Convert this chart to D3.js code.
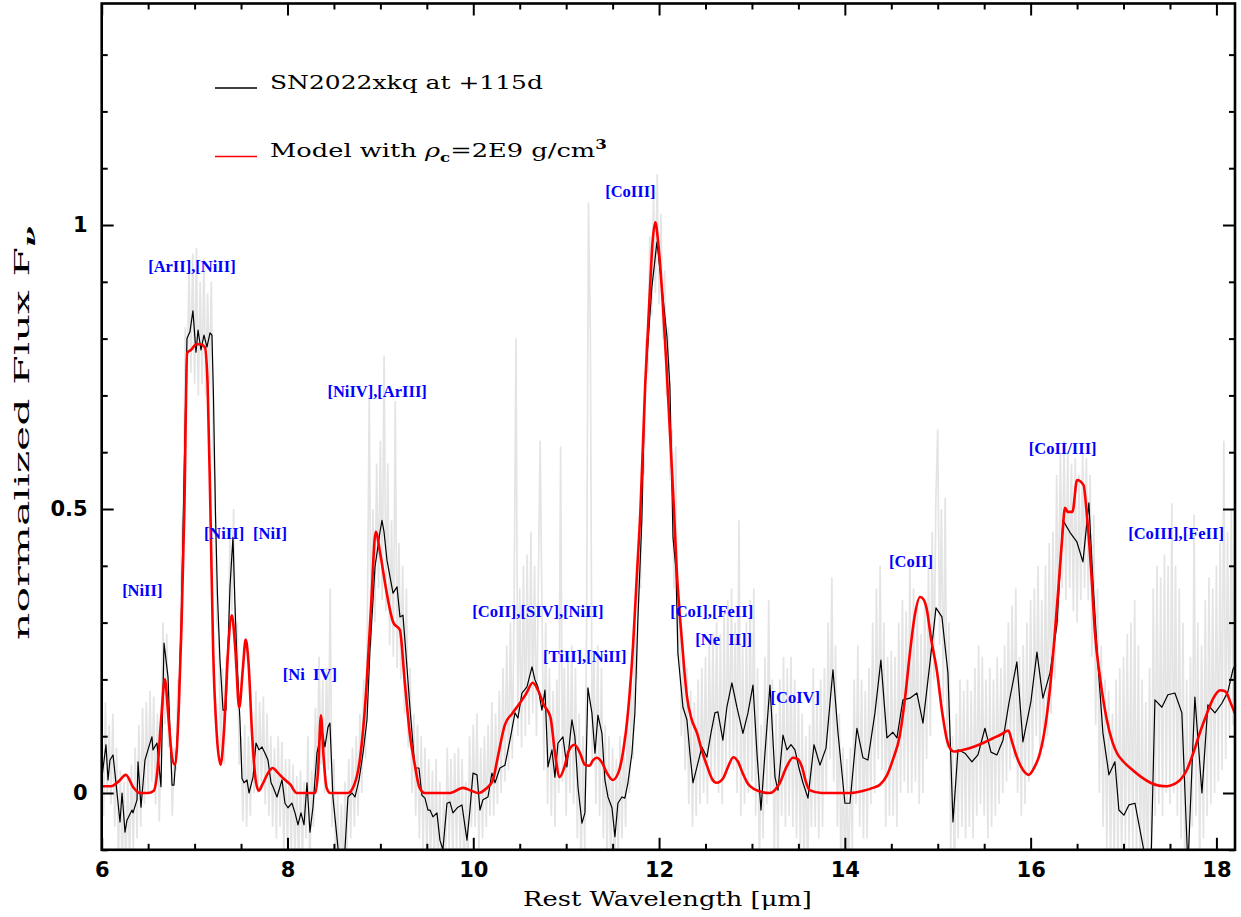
<!DOCTYPE html>
<html><head><meta charset="utf-8">
<script src="https://cdn.jsdelivr.net/npm/d3@7"></script>
<style>body{margin:0;background:#fff}svg{display:block}</style>
</head><body>
<svg id="c" width="1241" height="917"></svg>
<script>
// ---------------- DATA ----------------
const xMajorTicks = [6, 8, 10, 12, 14, 16, 18];
const xTickLabels = ["6", "8", "10", "12", "14", "16", "18"];
const yMajorTicks = [0, 0.5, 1];
const yTickLabels = ["0", "0.5", "1"];

// Model (red) : [wavelength um, normalized flux]
const modelPoints = [[6.00,0.012],[6.10,0.012],[6.18,0.02],[6.26,0.032],[6.34,0.01],[6.41,0.0],[6.50,0.0],[6.56,0.004],[6.60,0.04],[6.64,0.13],[6.68,0.20],[6.72,0.13],[6.76,0.06],[6.79,0.05],[6.83,0.15],[6.86,0.30],[6.89,0.50],[6.92,0.775],[6.96,0.78],[7.02,0.79],[7.06,0.79],[7.11,0.785],[7.14,0.72],[7.17,0.50],[7.20,0.25],[7.24,0.10],[7.28,0.05],[7.32,0.12],[7.36,0.25],[7.40,0.313],[7.44,0.25],[7.48,0.15],[7.52,0.22],[7.55,0.27],[7.58,0.23],[7.62,0.10],[7.66,0.02],[7.69,0.004],[7.73,0.015],[7.79,0.035],[7.84,0.044],[7.90,0.035],[7.96,0.025],[8.03,0.015],[8.10,0.0],[8.20,0.0],[8.30,0.0],[8.33,0.04],[8.36,0.137],[8.39,0.06],[8.42,0.01],[8.46,0.0],[8.55,0.0],[8.65,0.0],[8.72,0.015],[8.78,0.06],[8.85,0.187],[8.90,0.33],[8.95,0.46],[9.00,0.42],[9.06,0.36],[9.14,0.30],[9.21,0.287],[9.26,0.20],[9.32,0.10],[9.37,0.05],[9.42,0.01],[9.48,0.0],[9.60,0.0],[9.75,0.0],[9.89,0.009],[9.98,0.004],[10.05,0.0],[10.14,0.008],[10.21,0.022],[10.26,0.06],[10.34,0.12],[10.42,0.14],[10.50,0.158],[10.57,0.175],[10.64,0.194],[10.70,0.18],[10.76,0.155],[10.83,0.134],[10.88,0.07],[10.93,0.028],[10.98,0.045],[11.03,0.075],[11.09,0.085],[11.15,0.07],[11.20,0.05],[11.25,0.048],[11.29,0.058],[11.33,0.062],[11.38,0.055],[11.44,0.035],[11.50,0.023],[11.56,0.035],[11.61,0.07],[11.67,0.15],[11.72,0.26],[11.76,0.38],[11.80,0.50],[11.85,0.715],[11.90,0.88],[11.93,0.97],[11.96,1.005],[11.99,0.97],[12.04,0.863],[12.08,0.75],[12.12,0.627],[12.16,0.50],[12.19,0.393],[12.23,0.30],[12.27,0.22],[12.30,0.17],[12.35,0.13],[12.41,0.105],[12.46,0.075],[12.52,0.046],[12.57,0.025],[12.62,0.018],[12.69,0.026],[12.74,0.045],[12.80,0.063],[12.85,0.055],[12.90,0.035],[12.95,0.018],[12.98,0.012],[13.08,0.003],[13.19,0.0],[13.30,0.018],[13.37,0.045],[13.44,0.062],[13.49,0.06],[13.54,0.045],[13.58,0.02],[13.62,0.005],[13.75,0.0],[13.90,0.0],[14.05,0.0],[14.20,0.004],[14.30,0.009],[14.38,0.015],[14.45,0.03],[14.52,0.06],[14.59,0.10],[14.65,0.17],[14.70,0.246],[14.75,0.31],[14.81,0.345],[14.85,0.34],[14.88,0.325],[14.93,0.27],[14.99,0.216],[15.05,0.14],[15.10,0.093],[15.15,0.075],[15.18,0.073],[15.30,0.077],[15.38,0.081],[15.50,0.089],[15.59,0.096],[15.68,0.103],[15.76,0.11],[15.80,0.09],[15.85,0.064],[15.92,0.04],[15.98,0.032],[16.04,0.045],[16.10,0.07],[16.16,0.12],[16.21,0.187],[16.26,0.28],[16.30,0.363],[16.34,0.45],[16.37,0.502],[16.40,0.495],[16.45,0.495],[16.50,0.551],[16.57,0.542],[16.60,0.50],[16.62,0.463],[16.66,0.37],[16.69,0.287],[16.75,0.2],[16.82,0.129],[16.88,0.09],[16.93,0.07],[17.00,0.055],[17.10,0.04],[17.20,0.027],[17.29,0.018],[17.38,0.013],[17.47,0.012],[17.55,0.016],[17.61,0.023],[17.68,0.04],[17.75,0.07],[17.83,0.11],[17.90,0.141],[17.97,0.168],[18.04,0.181],[18.08,0.18],[18.11,0.176],[18.15,0.16],[18.20,0.14]];

// Binned observed spectrum (black): [wavelength um, normalized flux]
const obsPoints = [[6.003,0.028],[6.046,0.085],[6.068,0.023],[6.089,0.058],[6.122,0.067],[6.165,0.0],[6.197,-0.051],[6.219,0.0],[6.251,-0.069],[6.272,-0.048],[6.326,-0.030],[6.337,-0.035],[6.380,-0.012],[6.391,0.055],[6.423,-0.025],[6.466,0.058],[6.498,0.076],[6.541,0.099],[6.552,0.076],[6.595,0.088],[6.638,0.011],[6.671,0.264],[6.714,0.204],[6.757,0.014],[6.778,0.014],[6.821,0.116],[6.856,0.30],[6.886,0.55],[6.918,0.80],[6.950,0.812],[6.982,0.849],[7.015,0.776],[7.037,0.815],[7.069,0.780],[7.101,0.806],[7.133,0.785],[7.166,0.810],[7.187,0.806],[7.203,0.70],[7.225,0.49],[7.246,0.35],[7.273,0.235],[7.306,0.146],[7.338,0.146],[7.381,0.363],[7.413,0.45],[7.434,0.335],[7.456,0.234],[7.488,0.129],[7.510,0.026],[7.532,0.018],[7.564,0.023],[7.586,0.0],[7.629,0.028],[7.661,0.088],[7.693,0.076],[7.726,0.081],[7.758,0.070],[7.790,0.058],[7.823,0.018],[7.844,0.011],[7.887,-0.007],[7.941,0.023],[7.973,-0.018],[8.005,-0.026],[8.048,-0.018],[8.081,-0.035],[8.113,-0.056],[8.145,-0.035],[8.178,-0.056],[8.210,0.018],[8.242,-0.069],[8.274,-0.025],[8.317,0.070],[8.371,0.111],[8.403,0.081],[8.436,0.116],[8.457,0.123],[8.489,-0.007],[8.544,-0.097],[8.576,-0.13],[8.608,-0.13],[8.651,-0.007],[8.694,0.0],[8.727,-0.007],[8.770,0.023],[8.813,0.07],[8.856,0.129],[8.888,0.252],[8.942,0.398],[8.996,0.46],[9.017,0.48],[9.039,0.46],[9.071,0.41],[9.136,0.352],[9.179,0.363],[9.211,0.310],[9.243,0.313],[9.275,0.246],[9.318,0.151],[9.372,0.044],[9.415,0.044],[9.447,-0.004],[9.480,-0.009],[9.512,-0.03],[9.534,-0.03],[9.566,-0.042],[9.609,-0.035],[9.641,-0.083],[9.673,-0.10],[9.717,-0.018],[9.749,-0.016],[9.781,-0.035],[9.835,-0.025],[9.878,-0.021],[9.932,-0.083],[9.964,-0.030],[9.997,0.035],[10.040,0.032],[10.072,-0.030],[10.104,-0.012],[10.158,-0.007],[10.201,0.035],[10.234,0.018],[10.287,0.044],[10.341,0.049],[10.395,0.093],[10.449,0.141],[10.481,0.132],[10.524,0.176],[10.578,0.187],[10.632,0.222],[10.664,0.199],[10.696,0.187],[10.739,0.146],[10.772,0.181],[10.804,0.046],[10.847,0.076],[10.879,0.028],[10.912,0.088],[10.965,0.099],[11.008,0.046],[11.062,0.129],[11.094,0.099],[11.127,0.011],[11.170,-0.053],[11.202,-0.035],[11.234,0.185],[11.277,0.141],[11.310,0.070],[11.342,0.137],[11.385,0.105],[11.417,0.023],[11.450,-0.007],[11.493,-0.026],[11.525,-0.077],[11.557,-0.018],[11.600,-0.007],[11.632,-0.009],[11.665,0.018],[11.708,0.070],[11.740,0.141],[11.772,0.305],[11.815,0.482],[11.847,0.715],[11.923,0.891],[11.977,0.97],[12.031,0.891],[12.085,0.803],[12.117,0.715],[12.150,0.45],[12.182,0.393],[12.203,0.246],[12.257,0.151],[12.300,0.129],[12.332,0.070],[12.365,0.018],[12.408,0.046],[12.461,0.081],[12.515,0.063],[12.558,0.105],[12.601,0.141],[12.633,0.143],[12.687,0.093],[12.730,0.151],[12.784,0.194],[12.838,0.151],[12.903,0.105],[12.957,0.141],[13.011,0.190],[13.054,0.070],[13.097,-0.030],[13.140,0.070],[13.194,0.190],[13.248,0.028],[13.280,0.005],[13.334,0.102],[13.377,0.076],[13.420,0.085],[13.463,0.076],[13.506,0.044],[13.549,0.018],[13.603,-0.009],[13.668,0.085],[13.732,0.049],[13.797,0.079],[13.872,0.217],[13.926,0.106],[14.001,-0.018],[14.055,-0.018],[14.130,0.114],[14.195,0.062],[14.248,0.058],[14.324,0.141],[14.388,0.234],[14.453,0.097],[14.517,0.107],[14.561,0.097],[14.625,0.164],[14.701,0.167],[14.776,0.176],[14.841,0.123],[14.916,0.229],[14.981,0.326],[15.045,0.310],[15.110,0.211],[15.164,-0.051],[15.218,0.076],[15.293,0.070],[15.368,0.055],[15.433,0.067],[15.508,0.114],[15.573,0.072],[15.637,0.067],[15.702,0.093],[15.766,0.158],[15.852,0.231],[15.917,0.090],[16.003,0.161],[16.068,0.248],[16.132,0.167],[16.208,0.211],[16.283,0.296],[16.348,0.48],[16.423,0.459],[16.498,0.442],[16.563,0.407],[16.627,0.511],[16.670,0.375],[16.724,0.229],[16.778,0.106],[16.843,0.032],[16.907,0.055],[16.950,-0.030],[17.004,-0.039],[17.058,-0.021],[17.123,-0.018],[17.177,-0.065],[17.252,-0.13],[17.295,-0.13],[17.338,0.164],[17.413,0.151],[17.478,0.173],[17.553,0.176],[17.628,0.141],[17.693,-0.13],[17.768,0.169],[17.844,0.0],[17.908,0.155],[17.984,0.141],[18.059,0.158],[18.123,0.178],[18.177,0.217],[18.20,0.225]];

// Full-resolution spectrum (grey), sampled every 0.02 um from 6.00 um
const rawStart = 6.0;
const rawStep = 0.02;
const rawFlux = [
 0.10,-0.04,0.16,0.00,0.12,-0.02,0.14,-0.06,0.08,-0.12, 0.04,-0.14,0.02,-0.15,0.03,-0.12,0.05,-0.10,0.08,-0.08, 0.12,-0.06,0.15,-0.02,0.16,0.00,0.18,0.02,0.17,-0.02, 0.14,-0.05,0.10,0.30,0.12,0.28,0.08,0.10,-0.04,0.08, 0.04,0.20,0.18,0.45,0.52,0.82,0.72,0.92,0.74,0.95,
 0.72,0.96,0.70,0.90,0.72,0.94,0.70,0.88,0.72,0.90, 0.60,0.55,0.30,0.28,0.08,0.22,0.05,0.24,0.20,0.45, 0.32,0.50,0.22,0.30,0.05,0.10,-0.05,0.12,-0.06,0.10, -0.04,0.12,0.00,0.18,0.00,0.16,0.02,0.17,-0.02,0.14, -0.04,0.10,-0.06,0.08,-0.08,0.10,-0.06,0.09,-0.10,0.06,
 -0.10,0.06,-0.11,0.05,-0.12,0.03,-0.13,0.04,-0.12,0.02, -0.08,0.10,-0.14,0.04,-0.06,0.15,0.02,0.24,0.05,0.20, 0.00,0.22,0.04,0.36,-0.06,0.06,-0.14,0.00,-0.16,-0.02, -0.15,0.02,-0.10,0.06,-0.08,0.08,-0.06,0.10,-0.04,0.14, 0.00,0.20,0.06,0.30,0.70,0.26,0.50,0.30,0.58,0.36,
 0.62,0.34,0.77,0.32,0.58,0.26,0.48,0.24,0.69,0.22, 0.44,0.20,0.40,0.14,0.36,0.08,0.22,0.00,0.14,-0.04, 0.12,-0.08,0.10,-0.10,0.08,-0.12,0.06,-0.13,0.04,-0.14, 0.06,-0.16,0.02,-0.18,0.00,-0.12,0.08,-0.10,0.06,-0.12, 0.07,-0.10,0.08,-0.12,0.06,-0.15,0.02,-0.14,0.10,-0.06,
 0.12,-0.06,0.14,-0.10,0.08,-0.08,0.10,-0.06,0.12,-0.04, 0.16,-0.04,0.14,-0.02,0.18,0.00,0.22,0.02,0.26,0.04, 0.30,0.06,0.34,0.80,0.10,0.36,0.08,0.40,0.10,0.42, 0.12,0.46,0.14,0.40,0.10,0.36,0.62,0.32,0.04,0.30, -0.02,0.22,-0.04,0.18,-0.06,0.20,0.00,0.61,0.02,0.22,
 -0.04,0.24,0.00,0.26,-0.02,0.22,-0.08,0.14,-0.14,0.10, -0.10,0.30,1.04,0.81,0.06,0.24,-0.02,0.26,-0.04,0.22, -0.08,0.12,-0.12,0.10,-0.14,0.08,-0.16,0.06,-0.12,0.10, -0.08,0.10,-0.06,0.14,0.00,0.20,0.06,0.30,0.20,0.42, 0.36,0.60,0.56,0.80,0.74,0.98,0.84,1.05,0.88,1.09,
 0.86,1.02,0.80,0.92,0.70,0.82,0.55,0.64,0.36,0.61, 0.24,0.34,0.10,0.26,0.04,0.22,-0.02,0.18,-0.06,0.16, -0.04,0.20,-0.02,0.22,0.00,0.24,-0.02,0.26,0.02,0.28, 0.02,0.30,0.00,0.28,-0.02,0.32,0.04,0.34,0.06,0.36, 0.04,0.30,0.00,0.48,-0.04,0.26,-0.02,0.30,0.00,0.34,
 0.02,0.36,-0.04,0.22,-0.14,0.12,-0.08,0.24,-0.02,0.34, 0.00,0.20,-0.12,0.14,-0.14,0.20,-0.04,0.24,-0.06,0.22, -0.04,0.24,-0.06,0.20,-0.08,0.18,-0.10,0.14,-0.14,0.10, -0.16,0.12,-0.06,0.22,-0.06,0.18,-0.08,0.20,-0.06,0.22, 0.00,0.30,0.06,0.38,0.02,0.26,-0.06,0.14,-0.16,0.08,
 -0.16,0.06,-0.18,0.08,-0.10,0.20,-0.02,0.26,-0.06,0.20, -0.08,0.18,-0.08,0.22,-0.02,0.30,0.00,0.36,0.06,0.40, 0.04,0.30,-0.06,0.24,-0.04,0.25,-0.04,0.24,-0.06,0.30, 0.00,0.34,0.02,0.32,0.00,0.41,0.00,0.36,0.02,0.34, -0.02,0.28,0.00,0.34,0.06,0.40,0.10,0.46,0.20,0.52,
 0.64,0.26,0.50,0.16,0.52,0.08,0.30,-0.10,0.10,-0.16, 0.14,-0.08,0.20,-0.06,0.18,-0.08,0.20,-0.06,0.18,-0.08, 0.22,-0.04,0.26,-0.02,0.24,-0.04,0.20,-0.08,0.22,-0.06, 0.20,-0.04,0.24,-0.02,0.22,0.00,0.26,0.02,0.30,0.04, 0.33,0.06,0.36,0.00,0.24,-0.04,0.26,-0.02,0.30,0.02,
 0.34,0.04,0.36,0.10,0.40,0.06,0.34,0.08,0.40,0.10, 0.44,0.14,0.46,0.20,0.56,0.30,0.60,0.36,0.62,0.34, 0.60,0.36,0.58,0.32,0.59,0.30,0.56,0.34,0.60,0.36, 0.59,0.34,0.56,0.24,0.49,0.12,0.36,0.00,0.26,-0.06, 0.20,-0.10,0.18,-0.12,0.14,-0.14,0.20,-0.12,0.22,-0.14,
 0.24,-0.10,0.28,-0.10,0.30,-0.12,0.34,-0.14,0.26,-0.16, 0.20,-0.18,0.16,-0.20,0.22,-0.16,0.36,-0.04,0.40,-0.02, 0.38,-0.04,0.42,0.00,0.40,-0.02,0.51,0.00,0.40,-0.04, 0.36,-0.08,0.30,-0.16,0.20,-0.20,0.24,-0.06,0.49,-0.04, 0.30,-0.14,0.26,-0.08,0.34,-0.04,0.38,-0.02,0.36,0.00,
 0.40,0.02,0.44,0.04,0.62,0.06,0.46,0.10,0.50,0.12,0.48
];

// Line identifications: text, wavelength of left edge, flux of baseline
const lineIdText = ["[NiII]","[ArII],[NiII]","[NiII]","[NiI]","[NiIV],[ArIII]","[Ni  IV]","[CoIII]","[CoII],[SIV],[NiII]","[TiII],[NiII]","[CoI],[FeII]","[Ne  II]]","[CoIV]","[CoII]","[CoII/III]","[CoIII],[FeII]"];
const lineIdWave = [6.22, 6.50, 7.10, 7.63, 8.43, 7.95, 11.42, 9.99, 10.75, 12.12, 12.39, 13.20, 14.475, 15.98, 17.05];
const lineIdFlux = [0.347, 0.917, 0.447, 0.447, 0.697, 0.199, 1.049, 0.31, 0.231, 0.31, 0.261, 0.158, 0.398, 0.597, 0.447];

const legendObs = "SN2022xkq at +115d";
const xTitle = "Rest Wavelength [\u03bcm]";

// ---------------- CHART ----------------
const svg = d3.select("#c");
const L = 101.7, R = 1235, T = 3.5, B = 849.8;
const x = d3.scaleLinear().domain([6, 18.2]).range([L, R]);
const y = d3.scaleLinear().domain([-0.1, 1.39]).range([B, T]);

svg.append("rect").attr("width", 1241).attr("height", 917).attr("fill", "#fff");
svg.append("clipPath").attr("id", "clip").append("rect")
  .attr("x", L).attr("y", T).attr("width", R - L).attr("height", B - T);

const plot = svg.append("g").attr("clip-path", "url(#clip)");

const rawPoints = rawFlux.map((v, i) => [rawStart + i * rawStep, v]);
const lineLin = d3.line().x(d => x(d[0])).y(d => y(d[1]));
const lineSmooth = d3.line().x(d => x(d[0])).y(d => y(d[1])).curve(d3.curveMonotoneX);

plot.append("path").datum(rawPoints).attr("d", lineLin)
  .attr("fill", "none").attr("stroke", "#e4e4e4").attr("stroke-width", 1.7);
plot.append("path").datum(obsPoints).attr("d", lineLin)
  .attr("fill", "none").attr("stroke", "#000").attr("stroke-width", 1.2).attr("stroke-linejoin", "round");
plot.append("path").datum(modelPoints).attr("d", lineSmooth)
  .attr("fill", "none").attr("stroke", "#ff0000").attr("stroke-width", 2.6).attr("stroke-linejoin", "round");

// line identifications
svg.append("g").selectAll("text").data(lineIdText).join("text")
  .attr("x", (d, i) => x(lineIdWave[i])).attr("y", (d, i) => y(lineIdFlux[i]))
  .attr("fill", "#0000ff").attr("font-family", "Liberation Serif, serif")
  .attr("font-weight", "bold").attr("font-size", 16.5)
  .style("white-space", "pre").text(d => d);

// axes
function styleAxis(g) {
  g.select(".domain").remove();
  g.selectAll("line").attr("stroke", "#000").attr("stroke-width", 2);
}
const xMinor = d3.range(6, 18.21, 0.5).filter(v => Math.abs(v / 2 - Math.round(v / 2)) > 1e-6);
const yMinor = d3.range(-0.1, 1.391, 0.1).map(v => +v.toFixed(2)).filter(v => Math.abs(v * 2 - Math.round(v * 2)) > 1e-6);

const gxb = svg.append("g").attr("transform", `translate(0,${B})`)
  .call(d3.axisBottom(x).tickValues(xMajorTicks).tickSizeInner(-12).tickSizeOuter(0).tickPadding(12)
    .tickFormat((d, i) => xTickLabels[i]));
gxb.call(styleAxis);
gxb.selectAll("text").attr("font-family", "DejaVu Sans, sans-serif").attr("font-weight", "bold")
  .attr("font-size", 21).attr("fill", "#000");
svg.append("g").attr("transform", `translate(0,${B})`)
  .call(d3.axisBottom(x).tickValues(xMinor).tickSizeInner(-6).tickSizeOuter(0).tickFormat(""))
  .call(styleAxis);
svg.append("g").attr("transform", `translate(0,${T})`)
  .call(d3.axisTop(x).tickValues(xMajorTicks).tickSizeInner(-12).tickSizeOuter(0).tickFormat(""))
  .call(styleAxis);
svg.append("g").attr("transform", `translate(0,${T})`)
  .call(d3.axisTop(x).tickValues(xMinor).tickSizeInner(-6).tickSizeOuter(0).tickFormat(""))
  .call(styleAxis);

const gyl = svg.append("g").attr("transform", `translate(${L},0)`)
  .call(d3.axisLeft(y).tickValues(yMajorTicks).tickSizeInner(-12).tickSizeOuter(0).tickPadding(14)
    .tickFormat((d, i) => yTickLabels[i]));
gyl.call(styleAxis);
gyl.selectAll("text").attr("font-family", "DejaVu Sans, sans-serif").attr("font-weight", "bold")
  .attr("font-size", 21).attr("fill", "#000");
svg.append("g").attr("transform", `translate(${L},0)`)
  .call(d3.axisLeft(y).tickValues(yMinor).tickSizeInner(-6).tickSizeOuter(0).tickFormat(""))
  .call(styleAxis);
svg.append("g").attr("transform", `translate(${R},0)`)
  .call(d3.axisRight(y).tickValues(yMajorTicks).tickSizeInner(-12).tickSizeOuter(0).tickFormat(""))
  .call(styleAxis);
svg.append("g").attr("transform", `translate(${R},0)`)
  .call(d3.axisRight(y).tickValues(yMinor).tickSizeInner(-6).tickSizeOuter(0).tickFormat(""))
  .call(styleAxis);

svg.append("rect").attr("x", L).attr("y", T).attr("width", R - L).attr("height", B - T)
  .attr("fill", "none").attr("stroke", "#000").attr("stroke-width", 2.6);

// horizontal stretch helper: makes a text span the given width (wide roman lettering)
function stretch(sel, pre, w) {
  const cur = sel.node().getComputedTextLength();
  sel.attr("transform", `${pre} scale(${(w / cur).toFixed(4)},1)`);
}
const titleFont = "DejaVu Serif, serif";

// legend
svg.append("line").attr("x1", 215).attr("x2", 257).attr("y1", 88).attr("y2", 88)
  .attr("stroke", "#000").attr("stroke-width", 1.5);
const lg1 = svg.append("text").attr("x", 0).attr("y", 0)
  .attr("font-family", titleFont).attr("font-size", 18.5).attr("fill", "#000").text(legendObs);
stretch(lg1, "translate(270,88.5)", 273);

svg.append("line").attr("x1", 215).attr("x2", 257).attr("y1", 156.5).attr("y2", 156.5)
  .attr("stroke", "#ff0000").attr("stroke-width", 1.5);
const lg2 = svg.append("text").attr("x", 0).attr("y", 0)
  .attr("font-family", titleFont).attr("font-size", 18.5).attr("fill", "#000");
lg2.append("tspan").text("Model with ");
lg2.append("tspan").attr("font-style", "italic").text("\u03c1");
lg2.append("tspan").attr("font-size", 12).attr("font-weight", "bold").attr("dy", 5).text("c");
lg2.append("tspan").attr("dy", -5).text("=2E9 g/cm");
lg2.append("tspan").attr("font-size", 12).attr("font-weight", "bold").attr("dy", -8).text("3");
stretch(lg2, "translate(270,156.5)", 337);

// axis titles
const xt = svg.append("text").attr("x", 0).attr("y", 0)
  .attr("font-family", titleFont).attr("font-size", 20).attr("fill", "#000").text(xTitle);
stretch(xt, "translate(523,906)", 289);

const yt = svg.append("text").attr("x", 0).attr("y", 0)
  .attr("font-family", titleFont).attr("font-size", 20).attr("fill", "#000");
yt.append("tspan").text("normalized Flux F");
yt.append("tspan").attr("font-size", 14).attr("font-weight", "bold").attr("font-style", "italic").attr("dy", 6).text("\u03bd");
stretch(yt, "translate(29,640) rotate(-90)", 414);
</script>
</body></html>
